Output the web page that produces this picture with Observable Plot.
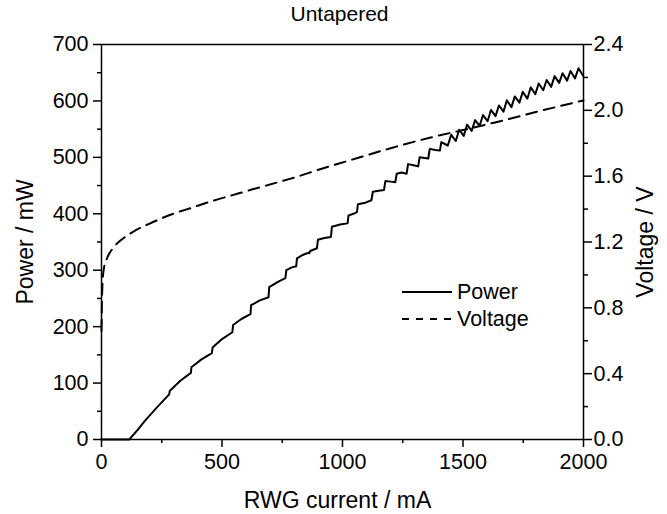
<!DOCTYPE html>
<html>
<head>
<meta charset="utf-8">
<script src="https://cdn.jsdelivr.net/npm/d3@7"></script>
<script src="https://cdn.jsdelivr.net/npm/@observablehq/plot@0.6"></script>
<style>
  html, body { margin: 0; padding: 0; background: #fff; }
  #wrap { position: relative; width: 667px; height: 514px; font-family: "Liberation Sans", Arial, sans-serif; color: #000; }
  #legend { position: absolute; left: 402px; top: 278px; }
  .row { display: flex; align-items: center; height: 27px; }
  .row svg { display: block; margin-right: 5px; }
  .row span { font-size: 21.5px; line-height: 22px; }
</style>
</head>
<body>
<div id="wrap"></div>
<script>
// ---- Data ----
const chartTitle = "Untapered";
const xLabel = "RWG current / mA";
const powerLabel = "Power / mW";
const voltageLabel = "Voltage / V";
const seriesNames = ["Power", "Voltage"];

// Power (mW) vs RWG current (mA)
const powerCurrent = [0, 115, 150, 180, 230, 281, 283, 327, 371, 373, 415, 458, 461, 500, 543, 546, 582, 618, 621, 655, 693, 696, 730, 763, 767, 790, 808, 811, 835, 858, 862, 866, 894, 898, 925, 952, 956, 990, 1021, 1025, 1045, 1060, 1064, 1090, 1120, 1126, 1150, 1172, 1178, 1200, 1219, 1225, 1245, 1266, 1272, 1295, 1314, 1320, 1340, 1356, 1362, 1385, 1404, 1410, 1437, 1451, 1470, 1484, 1503, 1517, 1536, 1550, 1569, 1583, 1602, 1616, 1635, 1649, 1668, 1682, 1701, 1715, 1734, 1748, 1767, 1781, 1800, 1814, 1833, 1847, 1866, 1880, 1899, 1913, 1932, 1946, 1965, 1979, 1998];
const powerValues = [0, 0, 17, 33, 57, 80, 86, 104, 118, 128, 142, 153, 163, 178, 190, 203, 214, 222, 238, 246, 252, 270, 279, 286, 300, 305, 307, 321, 327, 331, 330, 334, 339, 354, 357, 359, 377, 381, 383, 397, 400, 403, 417, 419, 424, 439, 441, 442, 458, 457, 456, 471, 473, 471, 488, 486, 484, 500, 499, 498, 515, 513, 512, 527, 521, 540, 529, 549, 538, 558, 547, 566, 556, 575, 564, 584, 573, 592, 581, 601, 589, 608, 597, 616, 604, 624, 612, 631, 619, 637, 625, 644, 632, 649, 636, 653, 640, 658, 645];

// Voltage (V) vs RWG current (mA)
const voltageCurrent = [0, 2, 5, 10, 20, 46, 80, 129, 212, 295, 378, 461, 544, 627, 737, 785, 924, 1062, 1200, 1366, 1500, 1629, 1719, 1802, 1900, 2000];
const voltageValues = [0.66, 0.85, 0.97, 1.04, 1.09, 1.16, 1.21, 1.26, 1.32, 1.37, 1.41, 1.45, 1.485, 1.52, 1.565, 1.585, 1.65, 1.71, 1.77, 1.835, 1.88, 1.925, 1.958, 1.99, 2.025, 2.06];

// Axis ticks
const xTicks = [0, 500, 1000, 1500, 2000];
const xMinorTicks = [250, 750, 1250, 1750];
const powerTicks = [0, 100, 200, 300, 400, 500, 600, 700];
const powerMinorTicks = [50, 150, 250, 350, 450, 550, 650];
const voltageTicks = [0, 0.4, 0.8, 1.2, 1.6, 2.0, 2.4];
const voltageMinorTicks = [0.2, 0.6, 1.0, 1.4, 1.8, 2.2];

// ---- Build ----
const powerMax = 700, voltageMax = 2.4;
const k = powerMax / voltageMax; // voltage mapped onto the power scale
const powerData = powerCurrent.map((x, i) => ({x, y: powerValues[i]}));
const voltageData = voltageCurrent.map((x, i) => ({x, y: voltageValues[i] * k}));

const font = "'Liberation Sans', Arial, sans-serif";
const lw = 1.5;
const tickFont = 21.5;
const labelFont = 23;

const chart = Plot.plot({
  width: 667,
  height: 514,
  marginLeft: 101,
  marginRight: 84,
  marginTop: 44,
  marginBottom: 75,
  style: {fontFamily: font, fontSize: "21.5px", color: "#000", background: "#fff", overflow: "visible"},
  x: {domain: [0, 2000]},
  y: {domain: [0, powerMax]},
  marks: [
    Plot.axisX({ticks: xMinorTicks, tickSize: 4, tickFormat: () => "", label: null, strokeWidth: lw}),
    Plot.axisX({ticks: xTicks, tickSize: 8, tickPadding: 6, tickFormat: d => String(d), label: null, strokeWidth: lw, fontSize: tickFont}),
    Plot.axisY({ticks: powerMinorTicks, tickSize: 4, tickFormat: () => "", label: null, strokeWidth: lw}),
    Plot.axisY({ticks: powerTicks, tickSize: 8, tickPadding: 5, tickFormat: d => String(d), label: null, strokeWidth: lw, fontSize: tickFont}),
    Plot.axisY({anchor: "right", ticks: voltageMinorTicks.map(v => v * k), tickSize: 4, tickFormat: () => "", label: null, strokeWidth: lw}),
    Plot.axisY({anchor: "right", ticks: voltageTicks.map(v => v * k), tickSize: 8, tickPadding: 2, tickFormat: d => (d / k).toFixed(1), label: null, strokeWidth: lw, fontSize: tickFont}),
    Plot.frame({stroke: "#000", strokeWidth: lw}),
    Plot.line(voltageData, {x: "x", y: "y", stroke: "#000", strokeWidth: 2, strokeDasharray: "11,7", curve: "monotone-x"}),
    Plot.line(powerData, {x: "x", y: "y", stroke: "#000", strokeWidth: 2}),
    Plot.text([chartTitle], {text: d => d, frameAnchor: "top", textAnchor: "middle", lineAnchor: "middle", dx: -3, dy: -30, fontSize: 21}),
    Plot.text([xLabel], {text: d => d, frameAnchor: "bottom", textAnchor: "middle", lineAnchor: "middle", dx: -5, dy: 61, fontSize: labelFont}),
    Plot.text([powerLabel], {text: d => d, frameAnchor: "left", textAnchor: "middle", lineAnchor: "middle", rotate: -90, dx: -76, fontSize: labelFont}),
    Plot.text([voltageLabel], {text: d => d, frameAnchor: "right", textAnchor: "middle", lineAnchor: "middle", rotate: -90, dx: 62, fontSize: labelFont})
  ]
});

const wrap = document.getElementById("wrap");
wrap.appendChild(chart);

// Legend (HTML overlay)
const legend = document.createElement("div");
legend.id = "legend";
const dashes = [null, "7,7"];
seriesNames.forEach((name, i) => {
  const row = document.createElement("div");
  row.className = "row";
  const ns = "http://www.w3.org/2000/svg";
  const s = document.createElementNS(ns, "svg");
  s.setAttribute("width", "50");
  s.setAttribute("height", "10");
  const ln = document.createElementNS(ns, "line");
  ln.setAttribute("x1", "0"); ln.setAttribute("x2", "50");
  ln.setAttribute("y1", "5"); ln.setAttribute("y2", "5");
  ln.setAttribute("stroke", "#000");
  ln.setAttribute("stroke-width", "2");
  if (dashes[i]) ln.setAttribute("stroke-dasharray", dashes[i]);
  s.appendChild(ln);
  const t = document.createElement("span");
  t.textContent = name;
  row.appendChild(s);
  row.appendChild(t);
  legend.appendChild(row);
});
wrap.appendChild(legend);
</script>
</body>
</html>
